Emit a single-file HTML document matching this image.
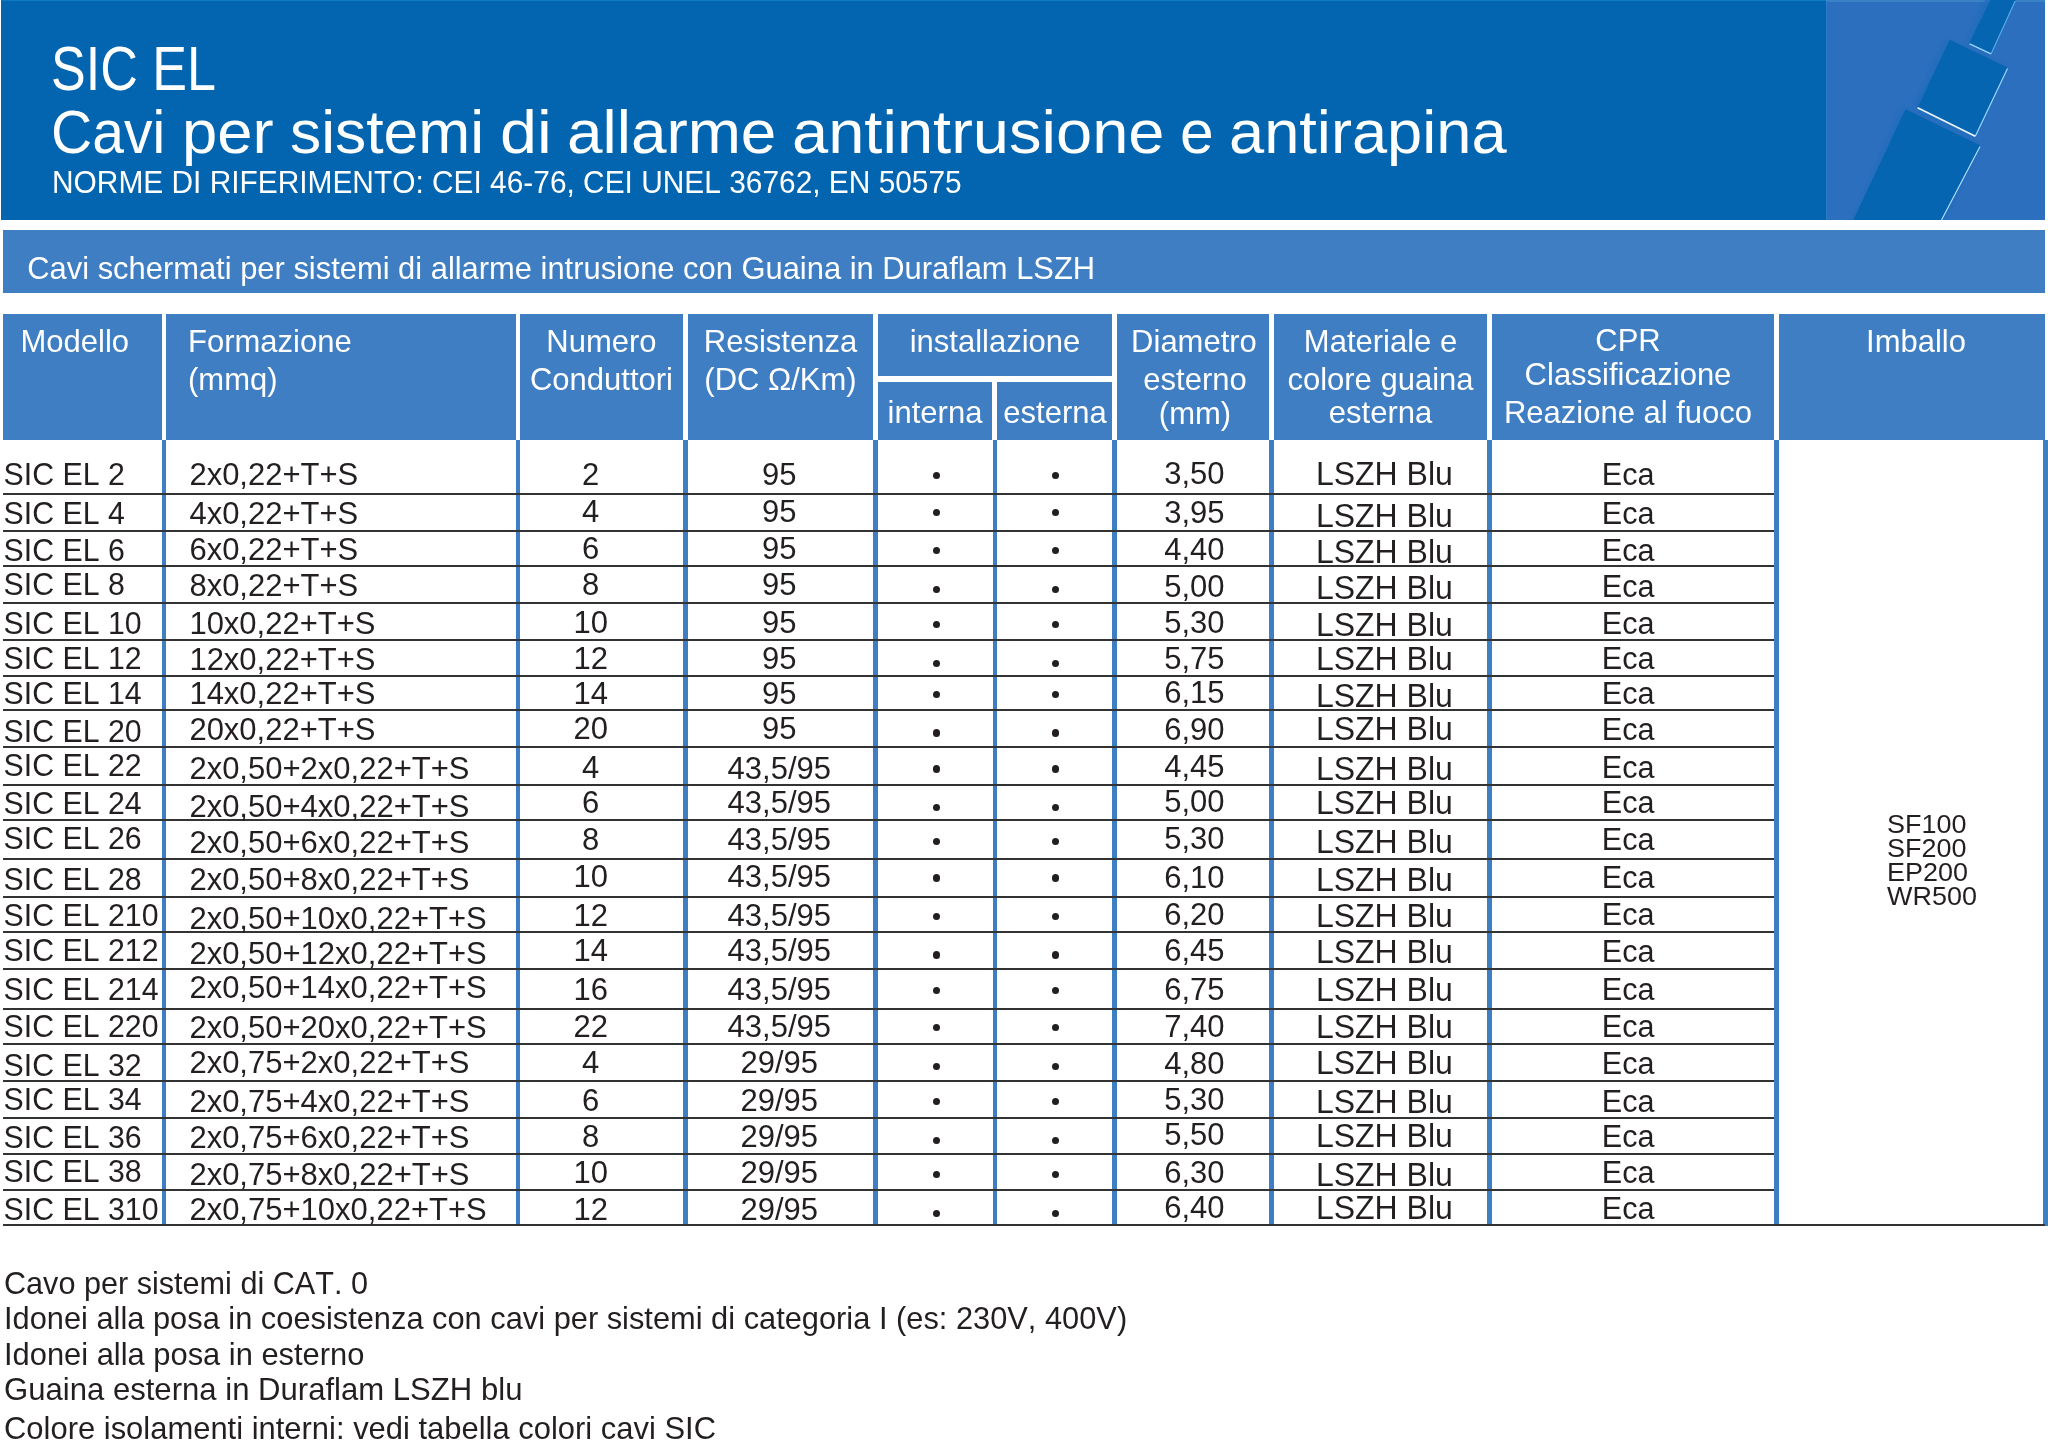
<!DOCTYPE html><html><head><meta charset="utf-8"><style>
*{margin:0;padding:0;box-sizing:border-box}
html,body{width:2048px;height:1442px;overflow:hidden;background:#fff}
body{position:relative;font-family:"Liberation Sans", sans-serif;color:#231f20}
.a{position:absolute}
.t{position:absolute;white-space:nowrap;line-height:1;font-kerning:none;}
.w{color:#fff}
</style></head><body>
<div class="a" style="left:1px;top:0;width:2044px;height:220px;background:#0364AF"></div>
<div class="a" style="left:1px;top:0;width:2044px;height:1.4px;background:#0b7cc0"></div>
<svg class="a" style="left:1826px;top:0" width="219" height="220" viewBox="1826 0 219 220">
<defs><filter id="bl" x="-20%" y="-20%" width="140%" height="140%"><feGaussianBlur stdDeviation="2.2"/></filter>
<clipPath id="cp"><rect x="1826" y="0" width="219" height="220"/></clipPath></defs>
<rect x="1826" y="0" width="219" height="220" fill="#2B6FBE"/>
<rect x="1826" y="0" width="219" height="2" fill="#3a82c6"/>
<rect x="1826" y="0" width="1" height="220" fill="#2f86cf" opacity="0.6"/>
<g clip-path="url(#cp)">
<g filter="url(#bl)" transform="translate(-3,0)" opacity="0.8">
<polygon points="1989.9,-5 2015.9,-5 1991.4,53.6 1971.1,43.7" fill="#1a6cbb"/>
<polygon points="1950.3,40 2007.5,67.6 1975.3,136.3 1917.6,107.7" fill="#1a6cbb"/>
<polygon points="1905.6,109.2 1980.5,145.6 1941.5,230 1853.3,230" fill="#1a6cbb"/>
</g>
<polygon points="1990.5,0 2015.7,0 1991,53.9 1969.1,43.7" fill="#0565B1"/>
<polygon points="1949.7,39.8 2007.5,67.6 1975.3,136.3 1917.6,107.7" fill="#0565B1"/>
<polygon points="1905.6,109.2 1980.5,145.6 1941.5,220 1853.3,220" fill="#0565B1"/>
<polyline points="2015.2,1 1991,53.9" fill="none" stroke="#5aaeea" stroke-width="1.1"/>
<polyline points="1991,53.9 1969.6,43.9" fill="none" stroke="#9ad6ff" stroke-width="1.4"/>
<polyline points="2007.5,68.4 1975.3,136.3" fill="none" stroke="#9ad6ff" stroke-width="1.2"/>
<polyline points="1975.3,136.3 1917.6,107.7" fill="none" stroke="#e6f6ff" stroke-width="1.8"/>
<line x1="1980" y1="146.5" x2="1941.5" y2="220" stroke="#b8e4ff" stroke-width="1.1"/>
</g>
</svg>
<div class="a" style="left:3px;top:230px;width:2042px;height:63px;background:#3F7EC2"></div>
<div class="a" style="left:3px;top:313.5px;width:158.5px;height:126.5px;background:#3F7EC2"></div>
<div class="a" style="left:166.2px;top:313.5px;width:349.40000000000003px;height:126.5px;background:#3F7EC2"></div>
<div class="a" style="left:520.2px;top:313.5px;width:163.0999999999999px;height:126.5px;background:#3F7EC2"></div>
<div class="a" style="left:688.2px;top:313.5px;width:185.0px;height:126.5px;background:#3F7EC2"></div>
<div class="a" style="left:1116.8px;top:313.5px;width:152.5px;height:126.5px;background:#3F7EC2"></div>
<div class="a" style="left:1273.9px;top:313.5px;width:213.5px;height:126.5px;background:#3F7EC2"></div>
<div class="a" style="left:1492.2px;top:313.5px;width:281.79999999999995px;height:126.5px;background:#3F7EC2"></div>
<div class="a" style="left:1778.8px;top:313.5px;width:266.20000000000005px;height:126.5px;background:#3F7EC2"></div>
<div class="a" style="left:877.8px;top:313.5px;width:234.20000000000005px;height:62.5px;background:#3F7EC2"></div>
<div class="a" style="left:877.8px;top:382px;width:114.70000000000005px;height:58px;background:#3F7EC2"></div>
<div class="a" style="left:997.2px;top:382px;width:114.79999999999995px;height:58px;background:#3F7EC2"></div>
<div class="a" style="left:161.5px;top:440px;width:4.699999999999989px;height:785.5999999999999px;background:#3F7EC2"></div>
<div class="a" style="left:515.6px;top:440px;width:4.600000000000023px;height:785.5999999999999px;background:#3F7EC2"></div>
<div class="a" style="left:683.3px;top:440px;width:4.900000000000091px;height:785.5999999999999px;background:#3F7EC2"></div>
<div class="a" style="left:873.2px;top:440px;width:4.599999999999909px;height:785.5999999999999px;background:#3F7EC2"></div>
<div class="a" style="left:992.5px;top:440px;width:4.7000000000000455px;height:785.5999999999999px;background:#3F7EC2"></div>
<div class="a" style="left:1112px;top:440px;width:4.7999999999999545px;height:785.5999999999999px;background:#3F7EC2"></div>
<div class="a" style="left:1269.3px;top:440px;width:4.600000000000136px;height:785.5999999999999px;background:#3F7EC2"></div>
<div class="a" style="left:1487.4px;top:440px;width:4.7999999999999545px;height:785.5999999999999px;background:#3F7EC2"></div>
<div class="a" style="left:1774px;top:440px;width:4.7999999999999545px;height:785.5999999999999px;background:#3F7EC2"></div>
<div class="a" style="left:2043px;top:440px;width:5px;height:785.5999999999999px;background:#3F7EC2"></div>
<div class="a" style="left:3px;top:492.5px;width:1771px;height:2px;background:#333"></div>
<div class="a" style="left:3px;top:529.8px;width:1771px;height:2px;background:#333"></div>
<div class="a" style="left:3px;top:564.7px;width:1771px;height:2px;background:#333"></div>
<div class="a" style="left:3px;top:601.6px;width:1771px;height:2px;background:#333"></div>
<div class="a" style="left:3px;top:639.2px;width:1771px;height:2px;background:#333"></div>
<div class="a" style="left:3px;top:674.7px;width:1771px;height:2px;background:#333"></div>
<div class="a" style="left:3px;top:708.9px;width:1771px;height:2px;background:#333"></div>
<div class="a" style="left:3px;top:746.1px;width:1771px;height:2px;background:#333"></div>
<div class="a" style="left:3px;top:783.6px;width:1771px;height:2px;background:#333"></div>
<div class="a" style="left:3px;top:818.9px;width:1771px;height:2px;background:#333"></div>
<div class="a" style="left:3px;top:858.3px;width:1771px;height:2px;background:#333"></div>
<div class="a" style="left:3px;top:895.5px;width:1771px;height:2px;background:#333"></div>
<div class="a" style="left:3px;top:931px;width:1771px;height:2px;background:#333"></div>
<div class="a" style="left:3px;top:967.8px;width:1771px;height:2px;background:#333"></div>
<div class="a" style="left:3px;top:1008px;width:1771px;height:2px;background:#333"></div>
<div class="a" style="left:3px;top:1042.6px;width:1771px;height:2px;background:#333"></div>
<div class="a" style="left:3px;top:1079.9px;width:1771px;height:2px;background:#333"></div>
<div class="a" style="left:3px;top:1117.4px;width:1771px;height:2px;background:#333"></div>
<div class="a" style="left:3px;top:1152.5px;width:1771px;height:2px;background:#333"></div>
<div class="a" style="left:3px;top:1189.2px;width:1771px;height:2px;background:#333"></div>
<div class="a" style="left:3px;top:1224.2px;width:2042px;height:2px;background:#333"></div>
<div class="t w" style="left:50.521134020618554px;top:37.16px;font-size:63px;transform:scale(0.8263,1.0000);transform-origin:0 53.34px;">SIC EL</div>
<div class="t w" style="left:51.09304347826087px;top:101.85px;font-size:61px;transform:scale(0.9357,1.0000);transform-origin:0 51.65px;">Cavi</div>
<div class="t w" style="left:182.44578313253012px;top:101.85px;font-size:61px;transform:scale(1.0386,1.0000);transform-origin:0 51.65px;">per</div>
<div class="t w" style="left:290.2554347826087px;top:101.85px;font-size:61px;transform:scale(1.0223,1.0000);transform-origin:0 51.65px;">sistemi</div>
<div class="t w" style="left:500.33000000000004px;top:101.85px;font-size:61px;transform:scale(1.0900,1.0000);transform-origin:0 51.65px;">di</div>
<div class="t w" style="left:567.2592783505154px;top:101.85px;font-size:61px;transform:scale(1.0469,1.0000);transform-origin:0 51.65px;">allarme</div>
<div class="t w" style="left:791.600583090379px;top:101.85px;font-size:61px;transform:scale(1.0665,1.0000);transform-origin:0 51.65px;">antintrusione</div>
<div class="t w" style="left:1179.9214285714286px;top:101.85px;font-size:61px;transform:scale(0.9929,1.0000);transform-origin:0 51.65px;">e</div>
<div class="t w" style="left:1228.891320754717px;top:101.85px;font-size:61px;transform:scale(1.0362,1.0000);transform-origin:0 51.65px;">antirapina</div>
<div class="t w" style="left:52.20857142857143px;top:168.10px;font-size:30px;transform:scale(0.9957,1.0500);transform-origin:0 25.40px;">NORME DI RIFERIMENTO: CEI 46-76, CEI UNEL 36762, EN 50575</div>
<div class="t w" style="left:27.3px;top:254.14px;font-size:30.9px;transform:scale(1.0000,1.0400);transform-origin:0 26.16px;">Cavi schermati per sistemi di allarme intrusione con Guaina in Duraflam LSZH</div>
<div class="t w" style="left:20.5px;top:326.45px;font-size:31px;transform:scale(1.0000,1.0400);transform-origin:0 26.25px;">Modello</div>
<div class="t w" style="left:188px;top:326.45px;font-size:31px;transform:scale(1.0000,1.0400);transform-origin:0 26.25px;">Formazione</div>
<div class="t w" style="left:188px;top:363.95px;font-size:31px;transform:scale(1.0000,1.0400);transform-origin:0 26.25px;">(mmq)</div>
<div class="t w" style="left:101.5px;width:1000px;text-align:center;top:326.45px;font-size:31px;transform:scale(1.0000,1.0400);transform-origin:500px 26.25px;">Numero</div>
<div class="t w" style="left:101.5px;width:1000px;text-align:center;top:363.95px;font-size:31px;transform:scale(1.0000,1.0400);transform-origin:500px 26.25px;">Conduttori</div>
<div class="t w" style="left:280.5px;width:1000px;text-align:center;top:326.45px;font-size:31px;transform:scale(1.0000,1.0400);transform-origin:500px 26.25px;">Resistenza</div>
<div class="t w" style="left:280.5px;width:1000px;text-align:center;top:363.95px;font-size:31px;transform:scale(1.0000,1.0400);transform-origin:500px 26.25px;">(DC Ω/Km)</div>
<div class="t w" style="left:495px;width:1000px;text-align:center;top:326.45px;font-size:31px;transform:scale(1.0000,1.0400);transform-origin:500px 26.25px;">installazione</div>
<div class="t w" style="left:435px;width:1000px;text-align:center;top:397.35px;font-size:31px;transform:scale(1.0000,1.0400);transform-origin:500px 26.25px;">interna</div>
<div class="t w" style="left:555px;width:1000px;text-align:center;top:397.35px;font-size:31px;transform:scale(1.0000,1.0400);transform-origin:500px 26.25px;">esterna</div>
<div class="t w" style="left:694px;width:1000px;text-align:center;top:326.45px;font-size:31px;transform:scale(1.0000,1.0400);transform-origin:500px 26.25px;">Diametro</div>
<div class="t w" style="left:695px;width:1000px;text-align:center;top:364.25px;font-size:31px;transform:scale(1.0000,1.0400);transform-origin:500px 26.25px;">esterno</div>
<div class="t w" style="left:695px;width:1000px;text-align:center;top:397.85px;font-size:31px;transform:scale(1.0000,1.0400);transform-origin:500px 26.25px;">(mm)</div>
<div class="t w" style="left:880.5px;width:1000px;text-align:center;top:326.45px;font-size:31px;transform:scale(1.0000,1.0400);transform-origin:500px 26.25px;">Materiale e</div>
<div class="t w" style="left:880.5px;width:1000px;text-align:center;top:363.95px;font-size:31px;transform:scale(1.0000,1.0400);transform-origin:500px 26.25px;">colore guaina</div>
<div class="t w" style="left:880.5px;width:1000px;text-align:center;top:397.35px;font-size:31px;transform:scale(1.0000,1.0400);transform-origin:500px 26.25px;">esterna</div>
<div class="t w" style="left:1128px;width:1000px;text-align:center;top:324.75px;font-size:31px;transform:scale(1.0000,1.0400);transform-origin:500px 26.25px;">CPR</div>
<div class="t w" style="left:1128px;width:1000px;text-align:center;top:358.75px;font-size:31px;transform:scale(1.0000,1.0400);transform-origin:500px 26.25px;">Classificazione</div>
<div class="t w" style="left:1128px;width:1000px;text-align:center;top:397.35px;font-size:31px;transform:scale(1.0000,1.0400);transform-origin:500px 26.25px;">Reazione al fuoco</div>
<div class="t w" style="left:1416px;width:1000px;text-align:center;top:326.45px;font-size:31px;transform:scale(1.0000,1.0400);transform-origin:500px 26.25px;">Imballo</div>
<div class="t" style="left:3.6px;top:459.54px;font-size:30.3px;transform:scale(1.0000,1.0400);transform-origin:0 25.66px;">SIC EL 2</div>
<div class="t" style="left:189.4px;top:458.55px;font-size:31px;transform:scale(1.0000,1.0400);transform-origin:0 26.25px;">2x0,22+T+S</div>
<div class="t" style="left:90.70000000000005px;width:1000px;text-align:center;top:459.05px;font-size:31px;transform:scale(1.0000,1.0400);transform-origin:500px 26.25px;">2</div>
<div class="t" style="left:279.29999999999995px;width:1000px;text-align:center;top:459.05px;font-size:31px;transform:scale(1.0000,1.0400);transform-origin:500px 26.25px;">95</div>
<div class="a" style="left:932.95px;top:471.75px;width:7.1px;height:7.1px;border-radius:50%;background:#231f20"></div>
<div class="a" style="left:1051.65px;top:471.75px;width:7.1px;height:7.1px;border-radius:50%;background:#231f20"></div>
<div class="t" style="left:694.4000000000001px;width:1000px;text-align:center;top:458.05px;font-size:31px;transform:scale(1.0000,1.0400);transform-origin:500px 26.25px;">3,50</div>
<div class="t" style="left:884.4000000000001px;width:1000px;text-align:center;top:458.21px;font-size:32px;transform:scale(1.0000,1.0400);transform-origin:500px 27.09px;">LSZH Blu</div>
<div class="t" style="left:1128.2px;width:1000px;text-align:center;top:459.39px;font-size:30.6px;transform:scale(1.0000,1.0400);transform-origin:500px 25.91px;">Eca</div>
<div class="t" style="left:3.6px;top:499.44px;font-size:30.3px;transform:scale(1.0000,1.0400);transform-origin:0 25.66px;">SIC EL 4</div>
<div class="t" style="left:189.4px;top:498.35px;font-size:31px;transform:scale(1.0000,1.0400);transform-origin:0 26.25px;">4x0,22+T+S</div>
<div class="t" style="left:90.70000000000005px;width:1000px;text-align:center;top:496.05px;font-size:31px;transform:scale(1.0000,1.0400);transform-origin:500px 26.25px;">4</div>
<div class="t" style="left:279.29999999999995px;width:1000px;text-align:center;top:496.05px;font-size:31px;transform:scale(1.0000,1.0400);transform-origin:500px 26.25px;">95</div>
<div class="a" style="left:932.95px;top:508.85px;width:7.1px;height:7.1px;border-radius:50%;background:#231f20"></div>
<div class="a" style="left:1051.65px;top:508.85px;width:7.1px;height:7.1px;border-radius:50%;background:#231f20"></div>
<div class="t" style="left:694.4000000000001px;width:1000px;text-align:center;top:496.75px;font-size:31px;transform:scale(1.0000,1.0400);transform-origin:500px 26.25px;">3,95</div>
<div class="t" style="left:884.4000000000001px;width:1000px;text-align:center;top:500.11px;font-size:32px;transform:scale(1.0000,1.0400);transform-origin:500px 27.09px;">LSZH Blu</div>
<div class="t" style="left:1128.2px;width:1000px;text-align:center;top:497.99px;font-size:30.6px;transform:scale(1.0000,1.0400);transform-origin:500px 25.91px;">Eca</div>
<div class="t" style="left:3.6px;top:535.74px;font-size:30.3px;transform:scale(1.0000,1.0400);transform-origin:0 25.66px;">SIC EL 6</div>
<div class="t" style="left:189.4px;top:534.35px;font-size:31px;transform:scale(1.0000,1.0400);transform-origin:0 26.25px;">6x0,22+T+S</div>
<div class="t" style="left:90.70000000000005px;width:1000px;text-align:center;top:533.25px;font-size:31px;transform:scale(1.0000,1.0400);transform-origin:500px 26.25px;">6</div>
<div class="t" style="left:279.29999999999995px;width:1000px;text-align:center;top:533.25px;font-size:31px;transform:scale(1.0000,1.0400);transform-origin:500px 26.25px;">95</div>
<div class="a" style="left:932.95px;top:547.25px;width:7.1px;height:7.1px;border-radius:50%;background:#231f20"></div>
<div class="a" style="left:1051.65px;top:547.25px;width:7.1px;height:7.1px;border-radius:50%;background:#231f20"></div>
<div class="t" style="left:694.4000000000001px;width:1000px;text-align:center;top:533.75px;font-size:31px;transform:scale(1.0000,1.0400);transform-origin:500px 26.25px;">4,40</div>
<div class="t" style="left:884.4000000000001px;width:1000px;text-align:center;top:535.51px;font-size:32px;transform:scale(1.0000,1.0400);transform-origin:500px 27.09px;">LSZH Blu</div>
<div class="t" style="left:1128.2px;width:1000px;text-align:center;top:534.79px;font-size:30.6px;transform:scale(1.0000,1.0400);transform-origin:500px 25.91px;">Eca</div>
<div class="t" style="left:3.6px;top:570.04px;font-size:30.3px;transform:scale(1.0000,1.0400);transform-origin:0 25.66px;">SIC EL 8</div>
<div class="t" style="left:189.4px;top:569.95px;font-size:31px;transform:scale(1.0000,1.0400);transform-origin:0 26.25px;">8x0,22+T+S</div>
<div class="t" style="left:90.70000000000005px;width:1000px;text-align:center;top:568.95px;font-size:31px;transform:scale(1.0000,1.0400);transform-origin:500px 26.25px;">8</div>
<div class="t" style="left:279.29999999999995px;width:1000px;text-align:center;top:568.95px;font-size:31px;transform:scale(1.0000,1.0400);transform-origin:500px 26.25px;">95</div>
<div class="a" style="left:932.95px;top:585.85px;width:7.1px;height:7.1px;border-radius:50%;background:#231f20"></div>
<div class="a" style="left:1051.65px;top:585.85px;width:7.1px;height:7.1px;border-radius:50%;background:#231f20"></div>
<div class="t" style="left:694.4000000000001px;width:1000px;text-align:center;top:570.85px;font-size:31px;transform:scale(1.0000,1.0400);transform-origin:500px 26.25px;">5,00</div>
<div class="t" style="left:884.4000000000001px;width:1000px;text-align:center;top:572.31px;font-size:32px;transform:scale(1.0000,1.0400);transform-origin:500px 27.09px;">LSZH Blu</div>
<div class="t" style="left:1128.2px;width:1000px;text-align:center;top:571.19px;font-size:30.6px;transform:scale(1.0000,1.0400);transform-origin:500px 25.91px;">Eca</div>
<div class="t" style="left:3.6px;top:609.34px;font-size:30.3px;transform:scale(1.0000,1.0400);transform-origin:0 25.66px;">SIC EL 10</div>
<div class="t" style="left:189.4px;top:608.05px;font-size:31px;transform:scale(1.0000,1.0400);transform-origin:0 26.25px;">10x0,22+T+S</div>
<div class="t" style="left:90.70000000000005px;width:1000px;text-align:center;top:607.35px;font-size:31px;transform:scale(1.0000,1.0400);transform-origin:500px 26.25px;">10</div>
<div class="t" style="left:279.29999999999995px;width:1000px;text-align:center;top:607.35px;font-size:31px;transform:scale(1.0000,1.0400);transform-origin:500px 26.25px;">95</div>
<div class="a" style="left:932.95px;top:621.05px;width:7.1px;height:7.1px;border-radius:50%;background:#231f20"></div>
<div class="a" style="left:1051.65px;top:621.05px;width:7.1px;height:7.1px;border-radius:50%;background:#231f20"></div>
<div class="t" style="left:694.4000000000001px;width:1000px;text-align:center;top:607.25px;font-size:31px;transform:scale(1.0000,1.0400);transform-origin:500px 26.25px;">5,30</div>
<div class="t" style="left:884.4000000000001px;width:1000px;text-align:center;top:608.71px;font-size:32px;transform:scale(1.0000,1.0400);transform-origin:500px 27.09px;">LSZH Blu</div>
<div class="t" style="left:1128.2px;width:1000px;text-align:center;top:608.29px;font-size:30.6px;transform:scale(1.0000,1.0400);transform-origin:500px 25.91px;">Eca</div>
<div class="t" style="left:3.6px;top:644.14px;font-size:30.3px;transform:scale(1.0000,1.0400);transform-origin:0 25.66px;">SIC EL 12</div>
<div class="t" style="left:189.4px;top:643.55px;font-size:31px;transform:scale(1.0000,1.0400);transform-origin:0 26.25px;">12x0,22+T+S</div>
<div class="t" style="left:90.70000000000005px;width:1000px;text-align:center;top:643.05px;font-size:31px;transform:scale(1.0000,1.0400);transform-origin:500px 26.25px;">12</div>
<div class="t" style="left:279.29999999999995px;width:1000px;text-align:center;top:643.05px;font-size:31px;transform:scale(1.0000,1.0400);transform-origin:500px 26.25px;">95</div>
<div class="a" style="left:932.95px;top:659.75px;width:7.1px;height:7.1px;border-radius:50%;background:#231f20"></div>
<div class="a" style="left:1051.65px;top:659.75px;width:7.1px;height:7.1px;border-radius:50%;background:#231f20"></div>
<div class="t" style="left:694.4000000000001px;width:1000px;text-align:center;top:642.75px;font-size:31px;transform:scale(1.0000,1.0400);transform-origin:500px 26.25px;">5,75</div>
<div class="t" style="left:884.4000000000001px;width:1000px;text-align:center;top:643.21px;font-size:32px;transform:scale(1.0000,1.0400);transform-origin:500px 27.09px;">LSZH Blu</div>
<div class="t" style="left:1128.2px;width:1000px;text-align:center;top:643.09px;font-size:30.6px;transform:scale(1.0000,1.0400);transform-origin:500px 25.91px;">Eca</div>
<div class="t" style="left:3.6px;top:679.44px;font-size:30.3px;transform:scale(1.0000,1.0400);transform-origin:0 25.66px;">SIC EL 14</div>
<div class="t" style="left:189.4px;top:678.05px;font-size:31px;transform:scale(1.0000,1.0400);transform-origin:0 26.25px;">14x0,22+T+S</div>
<div class="t" style="left:90.70000000000005px;width:1000px;text-align:center;top:678.25px;font-size:31px;transform:scale(1.0000,1.0400);transform-origin:500px 26.25px;">14</div>
<div class="t" style="left:279.29999999999995px;width:1000px;text-align:center;top:678.25px;font-size:31px;transform:scale(1.0000,1.0400);transform-origin:500px 26.25px;">95</div>
<div class="a" style="left:932.95px;top:691.35px;width:7.1px;height:7.1px;border-radius:50%;background:#231f20"></div>
<div class="a" style="left:1051.65px;top:691.35px;width:7.1px;height:7.1px;border-radius:50%;background:#231f20"></div>
<div class="t" style="left:694.4000000000001px;width:1000px;text-align:center;top:677.45px;font-size:31px;transform:scale(1.0000,1.0400);transform-origin:500px 26.25px;">6,15</div>
<div class="t" style="left:884.4000000000001px;width:1000px;text-align:center;top:679.81px;font-size:32px;transform:scale(1.0000,1.0400);transform-origin:500px 27.09px;">LSZH Blu</div>
<div class="t" style="left:1128.2px;width:1000px;text-align:center;top:677.79px;font-size:30.6px;transform:scale(1.0000,1.0400);transform-origin:500px 25.91px;">Eca</div>
<div class="t" style="left:3.6px;top:716.74px;font-size:30.3px;transform:scale(1.0000,1.0400);transform-origin:0 25.66px;">SIC EL 20</div>
<div class="t" style="left:189.4px;top:713.65px;font-size:31px;transform:scale(1.0000,1.0400);transform-origin:0 26.25px;">20x0,22+T+S</div>
<div class="t" style="left:90.70000000000005px;width:1000px;text-align:center;top:713.45px;font-size:31px;transform:scale(1.0000,1.0400);transform-origin:500px 26.25px;">20</div>
<div class="t" style="left:279.29999999999995px;width:1000px;text-align:center;top:713.45px;font-size:31px;transform:scale(1.0000,1.0400);transform-origin:500px 26.25px;">95</div>
<div class="a" style="left:932.95px;top:729.45px;width:7.1px;height:7.1px;border-radius:50%;background:#231f20"></div>
<div class="a" style="left:1051.65px;top:729.45px;width:7.1px;height:7.1px;border-radius:50%;background:#231f20"></div>
<div class="t" style="left:694.4000000000001px;width:1000px;text-align:center;top:713.85px;font-size:31px;transform:scale(1.0000,1.0400);transform-origin:500px 26.25px;">6,90</div>
<div class="t" style="left:884.4000000000001px;width:1000px;text-align:center;top:713.01px;font-size:32px;transform:scale(1.0000,1.0400);transform-origin:500px 27.09px;">LSZH Blu</div>
<div class="t" style="left:1128.2px;width:1000px;text-align:center;top:714.19px;font-size:30.6px;transform:scale(1.0000,1.0400);transform-origin:500px 25.91px;">Eca</div>
<div class="t" style="left:3.6px;top:751.24px;font-size:30.3px;transform:scale(1.0000,1.0400);transform-origin:0 25.66px;">SIC EL 22</div>
<div class="t" style="left:189.4px;top:753.25px;font-size:31px;transform:scale(1.0000,1.0400);transform-origin:0 26.25px;">2x0,50+2x0,22+T+S</div>
<div class="t" style="left:90.70000000000005px;width:1000px;text-align:center;top:752.35px;font-size:31px;transform:scale(1.0000,1.0400);transform-origin:500px 26.25px;">4</div>
<div class="t" style="left:279.29999999999995px;width:1000px;text-align:center;top:752.95px;font-size:31px;transform:scale(1.0000,1.0400);transform-origin:500px 26.25px;">43,5/95</div>
<div class="a" style="left:932.95px;top:765.45px;width:7.1px;height:7.1px;border-radius:50%;background:#231f20"></div>
<div class="a" style="left:1051.65px;top:765.45px;width:7.1px;height:7.1px;border-radius:50%;background:#231f20"></div>
<div class="t" style="left:694.4000000000001px;width:1000px;text-align:center;top:750.85px;font-size:31px;transform:scale(1.0000,1.0400);transform-origin:500px 26.25px;">4,45</div>
<div class="t" style="left:884.4000000000001px;width:1000px;text-align:center;top:752.61px;font-size:32px;transform:scale(1.0000,1.0400);transform-origin:500px 27.09px;">LSZH Blu</div>
<div class="t" style="left:1128.2px;width:1000px;text-align:center;top:752.19px;font-size:30.6px;transform:scale(1.0000,1.0400);transform-origin:500px 25.91px;">Eca</div>
<div class="t" style="left:3.6px;top:788.64px;font-size:30.3px;transform:scale(1.0000,1.0400);transform-origin:0 25.66px;">SIC EL 24</div>
<div class="t" style="left:189.4px;top:791.35px;font-size:31px;transform:scale(1.0000,1.0400);transform-origin:0 26.25px;">2x0,50+4x0,22+T+S</div>
<div class="t" style="left:90.70000000000005px;width:1000px;text-align:center;top:787.25px;font-size:31px;transform:scale(1.0000,1.0400);transform-origin:500px 26.25px;">6</div>
<div class="t" style="left:279.29999999999995px;width:1000px;text-align:center;top:787.25px;font-size:31px;transform:scale(1.0000,1.0400);transform-origin:500px 26.25px;">43,5/95</div>
<div class="a" style="left:932.95px;top:803.55px;width:7.1px;height:7.1px;border-radius:50%;background:#231f20"></div>
<div class="a" style="left:1051.65px;top:803.55px;width:7.1px;height:7.1px;border-radius:50%;background:#231f20"></div>
<div class="t" style="left:694.4000000000001px;width:1000px;text-align:center;top:786.35px;font-size:31px;transform:scale(1.0000,1.0400);transform-origin:500px 26.25px;">5,00</div>
<div class="t" style="left:884.4000000000001px;width:1000px;text-align:center;top:787.11px;font-size:32px;transform:scale(1.0000,1.0400);transform-origin:500px 27.09px;">LSZH Blu</div>
<div class="t" style="left:1128.2px;width:1000px;text-align:center;top:787.29px;font-size:30.6px;transform:scale(1.0000,1.0400);transform-origin:500px 25.91px;">Eca</div>
<div class="t" style="left:3.6px;top:824.14px;font-size:30.3px;transform:scale(1.0000,1.0400);transform-origin:0 25.66px;">SIC EL 26</div>
<div class="t" style="left:189.4px;top:827.35px;font-size:31px;transform:scale(1.0000,1.0400);transform-origin:0 26.25px;">2x0,50+6x0,22+T+S</div>
<div class="t" style="left:90.70000000000005px;width:1000px;text-align:center;top:823.85px;font-size:31px;transform:scale(1.0000,1.0400);transform-origin:500px 26.25px;">8</div>
<div class="t" style="left:279.29999999999995px;width:1000px;text-align:center;top:823.85px;font-size:31px;transform:scale(1.0000,1.0400);transform-origin:500px 26.25px;">43,5/95</div>
<div class="a" style="left:932.95px;top:837.85px;width:7.1px;height:7.1px;border-radius:50%;background:#231f20"></div>
<div class="a" style="left:1051.65px;top:837.85px;width:7.1px;height:7.1px;border-radius:50%;background:#231f20"></div>
<div class="t" style="left:694.4000000000001px;width:1000px;text-align:center;top:823.45px;font-size:31px;transform:scale(1.0000,1.0400);transform-origin:500px 26.25px;">5,30</div>
<div class="t" style="left:884.4000000000001px;width:1000px;text-align:center;top:825.81px;font-size:32px;transform:scale(1.0000,1.0400);transform-origin:500px 27.09px;">LSZH Blu</div>
<div class="t" style="left:1128.2px;width:1000px;text-align:center;top:823.79px;font-size:30.6px;transform:scale(1.0000,1.0400);transform-origin:500px 25.91px;">Eca</div>
<div class="t" style="left:3.6px;top:864.94px;font-size:30.3px;transform:scale(1.0000,1.0400);transform-origin:0 25.66px;">SIC EL 28</div>
<div class="t" style="left:189.4px;top:864.35px;font-size:31px;transform:scale(1.0000,1.0400);transform-origin:0 26.25px;">2x0,50+8x0,22+T+S</div>
<div class="t" style="left:90.70000000000005px;width:1000px;text-align:center;top:861.35px;font-size:31px;transform:scale(1.0000,1.0400);transform-origin:500px 26.25px;">10</div>
<div class="t" style="left:279.29999999999995px;width:1000px;text-align:center;top:861.35px;font-size:31px;transform:scale(1.0000,1.0400);transform-origin:500px 26.25px;">43,5/95</div>
<div class="a" style="left:932.95px;top:874.45px;width:7.1px;height:7.1px;border-radius:50%;background:#231f20"></div>
<div class="a" style="left:1051.65px;top:874.45px;width:7.1px;height:7.1px;border-radius:50%;background:#231f20"></div>
<div class="t" style="left:694.4000000000001px;width:1000px;text-align:center;top:862.05px;font-size:31px;transform:scale(1.0000,1.0400);transform-origin:500px 26.25px;">6,10</div>
<div class="t" style="left:884.4000000000001px;width:1000px;text-align:center;top:863.81px;font-size:32px;transform:scale(1.0000,1.0400);transform-origin:500px 27.09px;">LSZH Blu</div>
<div class="t" style="left:1128.2px;width:1000px;text-align:center;top:862.39px;font-size:30.6px;transform:scale(1.0000,1.0400);transform-origin:500px 25.91px;">Eca</div>
<div class="t" style="left:3.6px;top:900.74px;font-size:30.3px;transform:scale(1.0000,1.0400);transform-origin:0 25.66px;">SIC EL 210</div>
<div class="t" style="left:189.4px;top:903.15px;font-size:31px;transform:scale(1.0000,1.0400);transform-origin:0 26.25px;">2x0,50+10x0,22+T+S</div>
<div class="t" style="left:90.70000000000005px;width:1000px;text-align:center;top:900.25px;font-size:31px;transform:scale(1.0000,1.0400);transform-origin:500px 26.25px;">12</div>
<div class="t" style="left:279.29999999999995px;width:1000px;text-align:center;top:900.25px;font-size:31px;transform:scale(1.0000,1.0400);transform-origin:500px 26.25px;">43,5/95</div>
<div class="a" style="left:932.95px;top:912.85px;width:7.1px;height:7.1px;border-radius:50%;background:#231f20"></div>
<div class="a" style="left:1051.65px;top:912.85px;width:7.1px;height:7.1px;border-radius:50%;background:#231f20"></div>
<div class="t" style="left:694.4000000000001px;width:1000px;text-align:center;top:899.05px;font-size:31px;transform:scale(1.0000,1.0400);transform-origin:500px 26.25px;">6,20</div>
<div class="t" style="left:884.4000000000001px;width:1000px;text-align:center;top:899.81px;font-size:32px;transform:scale(1.0000,1.0400);transform-origin:500px 27.09px;">LSZH Blu</div>
<div class="t" style="left:1128.2px;width:1000px;text-align:center;top:899.39px;font-size:30.6px;transform:scale(1.0000,1.0400);transform-origin:500px 25.91px;">Eca</div>
<div class="t" style="left:3.6px;top:935.54px;font-size:30.3px;transform:scale(1.0000,1.0400);transform-origin:0 25.66px;">SIC EL 212</div>
<div class="t" style="left:189.4px;top:938.25px;font-size:31px;transform:scale(1.0000,1.0400);transform-origin:0 26.25px;">2x0,50+12x0,22+T+S</div>
<div class="t" style="left:90.70000000000005px;width:1000px;text-align:center;top:934.85px;font-size:31px;transform:scale(1.0000,1.0400);transform-origin:500px 26.25px;">14</div>
<div class="t" style="left:279.29999999999995px;width:1000px;text-align:center;top:934.85px;font-size:31px;transform:scale(1.0000,1.0400);transform-origin:500px 26.25px;">43,5/95</div>
<div class="a" style="left:932.95px;top:951.45px;width:7.1px;height:7.1px;border-radius:50%;background:#231f20"></div>
<div class="a" style="left:1051.65px;top:951.45px;width:7.1px;height:7.1px;border-radius:50%;background:#231f20"></div>
<div class="t" style="left:694.4000000000001px;width:1000px;text-align:center;top:935.45px;font-size:31px;transform:scale(1.0000,1.0400);transform-origin:500px 26.25px;">6,45</div>
<div class="t" style="left:884.4000000000001px;width:1000px;text-align:center;top:936.21px;font-size:32px;transform:scale(1.0000,1.0400);transform-origin:500px 27.09px;">LSZH Blu</div>
<div class="t" style="left:1128.2px;width:1000px;text-align:center;top:936.39px;font-size:30.6px;transform:scale(1.0000,1.0400);transform-origin:500px 25.91px;">Eca</div>
<div class="t" style="left:3.6px;top:975.34px;font-size:30.3px;transform:scale(1.0000,1.0400);transform-origin:0 25.66px;">SIC EL 214</div>
<div class="t" style="left:189.4px;top:972.25px;font-size:31px;transform:scale(1.0000,1.0400);transform-origin:0 26.25px;">2x0,50+14x0,22+T+S</div>
<div class="t" style="left:90.70000000000005px;width:1000px;text-align:center;top:974.45px;font-size:31px;transform:scale(1.0000,1.0400);transform-origin:500px 26.25px;">16</div>
<div class="t" style="left:279.29999999999995px;width:1000px;text-align:center;top:974.45px;font-size:31px;transform:scale(1.0000,1.0400);transform-origin:500px 26.25px;">43,5/95</div>
<div class="a" style="left:932.95px;top:986.95px;width:7.1px;height:7.1px;border-radius:50%;background:#231f20"></div>
<div class="a" style="left:1051.65px;top:986.95px;width:7.1px;height:7.1px;border-radius:50%;background:#231f20"></div>
<div class="t" style="left:694.4000000000001px;width:1000px;text-align:center;top:974.15px;font-size:31px;transform:scale(1.0000,1.0400);transform-origin:500px 26.25px;">6,75</div>
<div class="t" style="left:884.4000000000001px;width:1000px;text-align:center;top:973.91px;font-size:32px;transform:scale(1.0000,1.0400);transform-origin:500px 27.09px;">LSZH Blu</div>
<div class="t" style="left:1128.2px;width:1000px;text-align:center;top:974.49px;font-size:30.6px;transform:scale(1.0000,1.0400);transform-origin:500px 25.91px;">Eca</div>
<div class="t" style="left:3.6px;top:1012.44px;font-size:30.3px;transform:scale(1.0000,1.0400);transform-origin:0 25.66px;">SIC EL 220</div>
<div class="t" style="left:189.4px;top:1011.85px;font-size:31px;transform:scale(1.0000,1.0400);transform-origin:0 26.25px;">2x0,50+20x0,22+T+S</div>
<div class="t" style="left:90.70000000000005px;width:1000px;text-align:center;top:1011.05px;font-size:31px;transform:scale(1.0000,1.0400);transform-origin:500px 26.25px;">22</div>
<div class="t" style="left:279.29999999999995px;width:1000px;text-align:center;top:1011.05px;font-size:31px;transform:scale(1.0000,1.0400);transform-origin:500px 26.25px;">43,5/95</div>
<div class="a" style="left:932.95px;top:1024.15px;width:7.1px;height:7.1px;border-radius:50%;background:#231f20"></div>
<div class="a" style="left:1051.65px;top:1024.15px;width:7.1px;height:7.1px;border-radius:50%;background:#231f20"></div>
<div class="t" style="left:694.4000000000001px;width:1000px;text-align:center;top:1011.15px;font-size:31px;transform:scale(1.0000,1.0400);transform-origin:500px 26.25px;">7,40</div>
<div class="t" style="left:884.4000000000001px;width:1000px;text-align:center;top:1011.31px;font-size:32px;transform:scale(1.0000,1.0400);transform-origin:500px 27.09px;">LSZH Blu</div>
<div class="t" style="left:1128.2px;width:1000px;text-align:center;top:1011.49px;font-size:30.6px;transform:scale(1.0000,1.0400);transform-origin:500px 25.91px;">Eca</div>
<div class="t" style="left:3.6px;top:1050.64px;font-size:30.3px;transform:scale(1.0000,1.0400);transform-origin:0 25.66px;">SIC EL 32</div>
<div class="t" style="left:189.4px;top:1047.05px;font-size:31px;transform:scale(1.0000,1.0400);transform-origin:0 26.25px;">2x0,75+2x0,22+T+S</div>
<div class="t" style="left:90.70000000000005px;width:1000px;text-align:center;top:1046.75px;font-size:31px;transform:scale(1.0000,1.0400);transform-origin:500px 26.25px;">4</div>
<div class="t" style="left:279.29999999999995px;width:1000px;text-align:center;top:1046.75px;font-size:31px;transform:scale(1.0000,1.0400);transform-origin:500px 26.25px;">29/95</div>
<div class="a" style="left:932.95px;top:1063.15px;width:7.1px;height:7.1px;border-radius:50%;background:#231f20"></div>
<div class="a" style="left:1051.65px;top:1063.15px;width:7.1px;height:7.1px;border-radius:50%;background:#231f20"></div>
<div class="t" style="left:694.4000000000001px;width:1000px;text-align:center;top:1047.55px;font-size:31px;transform:scale(1.0000,1.0400);transform-origin:500px 26.25px;">4,80</div>
<div class="t" style="left:884.4000000000001px;width:1000px;text-align:center;top:1046.71px;font-size:32px;transform:scale(1.0000,1.0400);transform-origin:500px 27.09px;">LSZH Blu</div>
<div class="t" style="left:1128.2px;width:1000px;text-align:center;top:1047.89px;font-size:30.6px;transform:scale(1.0000,1.0400);transform-origin:500px 25.91px;">Eca</div>
<div class="t" style="left:3.6px;top:1084.94px;font-size:30.3px;transform:scale(1.0000,1.0400);transform-origin:0 25.66px;">SIC EL 34</div>
<div class="t" style="left:189.4px;top:1085.65px;font-size:31px;transform:scale(1.0000,1.0400);transform-origin:0 26.25px;">2x0,75+4x0,22+T+S</div>
<div class="t" style="left:90.70000000000005px;width:1000px;text-align:center;top:1084.85px;font-size:31px;transform:scale(1.0000,1.0400);transform-origin:500px 26.25px;">6</div>
<div class="t" style="left:279.29999999999995px;width:1000px;text-align:center;top:1084.85px;font-size:31px;transform:scale(1.0000,1.0400);transform-origin:500px 26.25px;">29/95</div>
<div class="a" style="left:932.95px;top:1097.95px;width:7.1px;height:7.1px;border-radius:50%;background:#231f20"></div>
<div class="a" style="left:1051.65px;top:1097.95px;width:7.1px;height:7.1px;border-radius:50%;background:#231f20"></div>
<div class="t" style="left:694.4000000000001px;width:1000px;text-align:center;top:1083.65px;font-size:31px;transform:scale(1.0000,1.0400);transform-origin:500px 26.25px;">5,30</div>
<div class="t" style="left:884.4000000000001px;width:1000px;text-align:center;top:1086.11px;font-size:32px;transform:scale(1.0000,1.0400);transform-origin:500px 27.09px;">LSZH Blu</div>
<div class="t" style="left:1128.2px;width:1000px;text-align:center;top:1085.69px;font-size:30.6px;transform:scale(1.0000,1.0400);transform-origin:500px 25.91px;">Eca</div>
<div class="t" style="left:3.6px;top:1123.04px;font-size:30.3px;transform:scale(1.0000,1.0400);transform-origin:0 25.66px;">SIC EL 36</div>
<div class="t" style="left:189.4px;top:1122.45px;font-size:31px;transform:scale(1.0000,1.0400);transform-origin:0 26.25px;">2x0,75+6x0,22+T+S</div>
<div class="t" style="left:90.70000000000005px;width:1000px;text-align:center;top:1121.15px;font-size:31px;transform:scale(1.0000,1.0400);transform-origin:500px 26.25px;">8</div>
<div class="t" style="left:279.29999999999995px;width:1000px;text-align:center;top:1121.15px;font-size:31px;transform:scale(1.0000,1.0400);transform-origin:500px 26.25px;">29/95</div>
<div class="a" style="left:932.95px;top:1137.25px;width:7.1px;height:7.1px;border-radius:50%;background:#231f20"></div>
<div class="a" style="left:1051.65px;top:1137.25px;width:7.1px;height:7.1px;border-radius:50%;background:#231f20"></div>
<div class="t" style="left:694.4000000000001px;width:1000px;text-align:center;top:1119.35px;font-size:31px;transform:scale(1.0000,1.0400);transform-origin:500px 26.25px;">5,50</div>
<div class="t" style="left:884.4000000000001px;width:1000px;text-align:center;top:1119.81px;font-size:32px;transform:scale(1.0000,1.0400);transform-origin:500px 27.09px;">LSZH Blu</div>
<div class="t" style="left:1128.2px;width:1000px;text-align:center;top:1120.99px;font-size:30.6px;transform:scale(1.0000,1.0400);transform-origin:500px 25.91px;">Eca</div>
<div class="t" style="left:3.6px;top:1156.84px;font-size:30.3px;transform:scale(1.0000,1.0400);transform-origin:0 25.66px;">SIC EL 38</div>
<div class="t" style="left:189.4px;top:1158.75px;font-size:31px;transform:scale(1.0000,1.0400);transform-origin:0 26.25px;">2x0,75+8x0,22+T+S</div>
<div class="t" style="left:90.70000000000005px;width:1000px;text-align:center;top:1157.25px;font-size:31px;transform:scale(1.0000,1.0400);transform-origin:500px 26.25px;">10</div>
<div class="t" style="left:279.29999999999995px;width:1000px;text-align:center;top:1157.25px;font-size:31px;transform:scale(1.0000,1.0400);transform-origin:500px 26.25px;">29/95</div>
<div class="a" style="left:932.95px;top:1170.95px;width:7.1px;height:7.1px;border-radius:50%;background:#231f20"></div>
<div class="a" style="left:1051.65px;top:1170.95px;width:7.1px;height:7.1px;border-radius:50%;background:#231f20"></div>
<div class="t" style="left:694.4000000000001px;width:1000px;text-align:center;top:1157.05px;font-size:31px;transform:scale(1.0000,1.0400);transform-origin:500px 26.25px;">6,30</div>
<div class="t" style="left:884.4000000000001px;width:1000px;text-align:center;top:1159.41px;font-size:32px;transform:scale(1.0000,1.0400);transform-origin:500px 27.09px;">LSZH Blu</div>
<div class="t" style="left:1128.2px;width:1000px;text-align:center;top:1157.39px;font-size:30.6px;transform:scale(1.0000,1.0400);transform-origin:500px 25.91px;">Eca</div>
<div class="t" style="left:3.6px;top:1194.64px;font-size:30.3px;transform:scale(1.0000,1.0400);transform-origin:0 25.66px;">SIC EL 310</div>
<div class="t" style="left:189.4px;top:1193.55px;font-size:31px;transform:scale(1.0000,1.0400);transform-origin:0 26.25px;">2x0,75+10x0,22+T+S</div>
<div class="t" style="left:90.70000000000005px;width:1000px;text-align:center;top:1193.55px;font-size:31px;transform:scale(1.0000,1.0400);transform-origin:500px 26.25px;">12</div>
<div class="t" style="left:279.29999999999995px;width:1000px;text-align:center;top:1193.55px;font-size:31px;transform:scale(1.0000,1.0400);transform-origin:500px 26.25px;">29/95</div>
<div class="a" style="left:932.95px;top:1209.55px;width:7.1px;height:7.1px;border-radius:50%;background:#231f20"></div>
<div class="a" style="left:1051.65px;top:1209.55px;width:7.1px;height:7.1px;border-radius:50%;background:#231f20"></div>
<div class="t" style="left:694.4000000000001px;width:1000px;text-align:center;top:1191.55px;font-size:31px;transform:scale(1.0000,1.0400);transform-origin:500px 26.25px;">6,40</div>
<div class="t" style="left:884.4000000000001px;width:1000px;text-align:center;top:1191.71px;font-size:32px;transform:scale(1.0000,1.0400);transform-origin:500px 27.09px;">LSZH Blu</div>
<div class="t" style="left:1128.2px;width:1000px;text-align:center;top:1192.89px;font-size:30.6px;transform:scale(1.0000,1.0400);transform-origin:500px 25.91px;">Eca</div>
<div class="t" style="left:1887px;top:813.46px;font-size:24.5px;transform:scale(1.1000,1.0700);transform-origin:0 20.74px;">SF100</div>
<div class="t" style="left:1887px;top:837.16px;font-size:24.5px;transform:scale(1.1000,1.0700);transform-origin:0 20.74px;">SF200</div>
<div class="t" style="left:1887px;top:860.86px;font-size:24.5px;transform:scale(1.1000,1.0700);transform-origin:0 20.74px;">EP200</div>
<div class="t" style="left:1887px;top:884.66px;font-size:24.5px;transform:scale(1.1000,1.0700);transform-origin:0 20.74px;">WR500</div>
<div class="t" style="left:3.92568306010929px;top:1268.35px;font-size:31px;transform:scale(0.9872,1.0400);transform-origin:0 26.25px;">Cavo per sistemi di CAT. 0</div>
<div class="t" style="left:3.8192px;top:1302.75px;font-size:31px;transform:scale(0.9936,1.0400);transform-origin:0 26.25px;">Idonei alla posa in coesistenza con cavi per sistemi di categoria I (es: 230V, 400V)</div>
<div class="t" style="left:3.8125698324022346px;top:1339.25px;font-size:31px;transform:scale(0.9958,1.0400);transform-origin:0 26.25px;">Idonei alla posa in esterno</div>
<div class="t" style="left:3.894152046783626px;top:1374.35px;font-size:31px;transform:scale(1.0029,1.0400);transform-origin:0 26.25px;">Guaina esterna in Duraflam LSZH blu</div>
<div class="t" style="left:3.903661971830986px;top:1413.35px;font-size:31px;transform:scale(0.9982,1.0400);transform-origin:0 26.25px;">Colore isolamenti interni: vedi tabella colori cavi SIC</div>
</body></html>
